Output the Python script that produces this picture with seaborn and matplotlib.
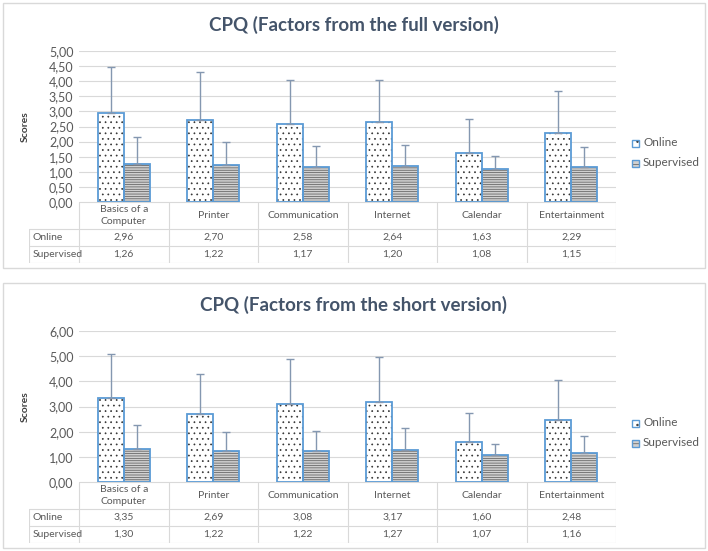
import matplotlib
matplotlib.use("Agg")
import matplotlib.pyplot as plt
from matplotlib.patches import Rectangle
import seaborn as sns
import pandas as pd

categories = ["Basics of a\nComputer", "Printer", "Communication", "Internet", "Calendar", "Entertainment"]
groups = ["Online", "Supervised"]

full_online = [2.96, 2.70, 2.58, 2.64, 1.63, 2.29]
full_supervised = [1.26, 1.22, 1.17, 1.20, 1.08, 1.15]
full_online_sd = [1.52, 1.59, 1.47, 1.41, 1.11, 1.39]
full_supervised_sd = [0.89, 0.77, 0.67, 0.70, 0.43, 0.66]

short_online = [3.35, 2.69, 3.08, 3.17, 1.60, 2.48]
short_supervised = [1.30, 1.22, 1.22, 1.27, 1.07, 1.16]
short_online_sd = [1.74, 1.59, 1.82, 1.79, 1.14, 1.59]
short_supervised_sd = [0.96, 0.76, 0.79, 0.88, 0.44, 0.65]

sns.set_style("white")
plt.rcParams["font.family"] = ["Lato", "DejaVu Sans"]
plt.rcParams["hatch.linewidth"] = 0.5

W, H = 708, 551
BLUE = "#5b9bd5"
GRID = "#d9d9d9"
TXT = "#595959"
ERR = "#8497b0"


def fx(px):
    return px / W


def fy(py):
    return 1 - py / H


def fmt(v):
    return f"{v:.2f}".replace(".", ",")


def draw_panel(fig, y0, title, online, sup, online_sd, sup_sd, ymax, ystep):
    # panel frame
    fig.add_artist(Rectangle((fx(3), fy(y0 + 265)), fx(702), 265 / H, transform=fig.transFigure,
                             fill=False, edgecolor=GRID, lw=1))
    ax_top, ax_bot = y0 + 48, y0 + 199
    ax = fig.add_axes([fx(79), fy(ax_bot), fx(616 - 79), (ax_bot - ax_top) / H])
    df = pd.DataFrame({
        "category": categories * 2,
        "group": ["Online"] * 6 + ["Supervised"] * 6,
        "score": online + sup,
    })
    sns.barplot(data=df, x="category", y="score", hue="group", hue_order=groups,
                palette=["white", "#d0d0d0"], width=0.58, errorbar=None, legend=False, ax=ax,
                zorder=2)
    hatches = ["...", "-------"]
    hcols = ["#333333", "#555555"]
    for cont, h, hc in zip(ax.containers, hatches, hcols):
        for p in cont:
            p.set_hatch(h)
            p.set_edgecolor(hc)
            p.set_linewidth(0)
            ax.add_patch(Rectangle((p.get_x(), p.get_y()), p.get_width(), p.get_height(),
                                   fill=False, edgecolor=BLUE, lw=1.3, zorder=3))
    for cont, vals, sd in zip(ax.containers, [online, sup], [online_sd, sup_sd]):
        xs = [p.get_x() + p.get_width() / 2 for p in cont]
        ax.errorbar(xs, vals, yerr=[[0] * len(sd), sd], fmt="none", ecolor=ERR,
                    elinewidth=1, capsize=3, capthick=1, zorder=4)
    ax.set_ylim(0, ymax)
    ticks = [i * ystep for i in range(int(round(ymax / ystep)) + 1)]
    ax.set_yticks(ticks)
    ax.set_yticklabels([fmt(t) for t in ticks], fontsize=9, color=TXT)
    ax.tick_params(axis="y", length=0, pad=4)
    ax.set_xticks([])
    ax.set_xlabel("")
    ax.set_ylabel("Scores", fontsize=7.5, fontweight="bold", color="#404040", labelpad=14)
    ax.grid(axis="y", color=GRID, lw=0.8, zorder=0)
    ax.set_axisbelow(True)
    for s in ax.spines.values():
        s.set_visible(False)
    ax.set_xlim(-0.5, 5.5)
    fig.text(0.5, fy(y0 + 22), title, ha="center", va="center", fontsize=13.5,
             fontweight="bold", color="#44546a")

    # legend
    for i, (g, h, fc, hc) in enumerate(zip(groups, ["..", "----"], ["white", "#d0d0d0"], hcols)):
        ly = y0 + 140 + i * 20
        fig.add_artist(Rectangle((fx(632), fy(ly + 3.5)), fx(7), 7 / H, transform=fig.transFigure,
                                 facecolor=fc, edgecolor=hc, hatch=h, lw=0))
        fig.add_artist(Rectangle((fx(632), fy(ly + 3.5)), fx(7), 7 / H, transform=fig.transFigure,
                                 fill=False, edgecolor=BLUE, lw=1))
        fig.text(fx(643), fy(ly), g, ha="left", va="center", fontsize=8.5, color=TXT)

    # data table
    t_top, t_bot = ax_bot, y0 + 260
    left = 29
    tab = fig.add_axes([fx(left), fy(t_bot), fx(616 - left), (t_bot - t_top) / H])
    unit = (616 - 79) / 6
    xl = -0.5 - (79 - left) / unit
    tab.set_xlim(xl, 5.5)
    th = t_bot - t_top
    tab.set_ylim(th, 0)
    tab.axis("off")
    r1 = 27
    r2 = r1 + (th - r1) / 2
    lc = "#d9d9d9"
    tab.plot([-0.5, 5.5], [0, 0], color=lc, lw=0.8)
    for yy in [r1, r2, th]:
        tab.plot([xl, 5.5], [yy, yy], color=lc, lw=0.8)
    for k in range(7):
        tab.plot([k - 0.5, k - 0.5], [0, th], color=lc, lw=0.8)
    tab.plot([xl, xl], [r1, th], color=lc, lw=0.8)
    for i, c in enumerate(categories):
        tab.text(i, r1 / 2, c, ha="center", va="center", fontsize=7.5, color=TXT, linespacing=1.3)
        tab.text(i, (r1 + r2) / 2, fmt(online[i]), ha="center", va="center", fontsize=7.5, color=TXT)
        tab.text(i, (r2 + th) / 2, fmt(sup[i]), ha="center", va="center", fontsize=7.5, color=TXT)
    tab.text(xl + 0.04, (r1 + r2) / 2, "Online", ha="left", va="center", fontsize=7.5, color=TXT)
    tab.text(xl + 0.04, (r2 + th) / 2, "Supervised", ha="left", va="center", fontsize=7.5, color=TXT)


fig = plt.figure(figsize=(W / 100, H / 100), dpi=100)
draw_panel(fig, 3, "CPQ (Factors from the full version)", full_online, full_supervised,
           full_online_sd, full_supervised_sd, 5.0, 0.5)
draw_panel(fig, 283, "CPQ (Factors from the short version)", short_online, short_supervised,
           short_online_sd, short_supervised_sd, 6.0, 1.0)
fig.savefig("out.png", dpi=100)
